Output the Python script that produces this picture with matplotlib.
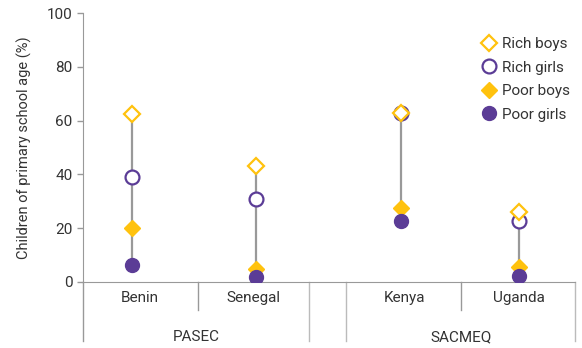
import matplotlib
matplotlib.use("Agg")
import matplotlib.pyplot as plt

# ---------------------------------------------------------------------------
# Data
# ---------------------------------------------------------------------------
countries = ["Benin", "Senegal", "Kenya", "Uganda"]
groups = ["PASEC", "SACMEQ"]
rich_boys = [62.3, 43.2, 63.0, 26.2]
rich_girls = [39.1, 31.0, 62.8, 22.8]
poor_boys = [19.9, 4.8, 27.5, 5.4]
poor_girls = [6.4, 1.7, 22.8, 2.3]
yticks = [0, 20, 40, 60, 80, 100]

# layout: cell edges along x (data units), one blank cell between the two groups
x_pos = [0.43, 1.52, 2.80, 3.84]
label_pos = [0.5, 1.5, 2.83, 3.84]
cell_edges_short = [1.01, 3.33]
cell_edges_long = [0.0, 1.99, 2.32, 4.335]
group_pos = [1.0, 3.33]

YELLOW = "#FFC20E"
PURPLE = "#5B3C96"
GREY = "#999999"
TEXT = "#333333"

plt.rcParams["font.family"] = ["Roboto", "DejaVu Sans"]

fig = plt.figure(figsize=(5.82, 3.48), dpi=100)
ax = fig.add_axes([0.1426, 0.1897, 0.988 - 0.1426, 0.9626 - 0.1897])

# range lines
for x, a, b, c, d in zip(x_pos, rich_boys, rich_girls, poor_boys, poor_girls):
    vals = [a, b, c, d]
    ax.plot([x, x], [min(vals), max(vals)], color=GREY, lw=1.6, zorder=1)

ms = 10
ax.plot(x_pos, rich_girls, "o", ls="none", ms=ms, mfc="white", mec=PURPLE,
        mew=1.6, zorder=3, label="Rich girls")
ax.plot(x_pos, rich_boys, "D", ls="none", ms=ms * 0.8, mfc="white", mec=YELLOW,
        mew=1.6, zorder=4, label="Rich boys")
ax.plot(x_pos, poor_boys, "D", ls="none", ms=ms * 0.8, color=YELLOW,
        zorder=5, label="Poor boys")
ax.plot(x_pos, poor_girls, "o", ls="none", ms=ms, color=PURPLE,
        zorder=6, label="Poor girls")

ax.set_xlim(0, 4.335)
ax.set_ylim(0, 100)
ax.set_yticks(yticks)
ax.tick_params(axis="y", colors=GREY, labelcolor=TEXT, labelsize=11,
               length=4, width=1)
ax.set_xticks([])
ax.set_ylabel("Children of primary school age (%)", color=TEXT, fontsize=10.5,
              labelpad=11)

for side in ["top", "right"]:
    ax.spines[side].set_visible(False)
ax.spines["left"].set_color(GREY)
ax.spines["bottom"].set_color(GREY)
ax.spines["left"].set_bounds(0, 100)

# multi-level category axis below the plot
tr = ax.get_xaxis_transform()
for x in cell_edges_short:
    ax.plot([x, x], [0, -0.104], color=GREY, lw=1, transform=tr, clip_on=False)
for x in cell_edges_long:
    ax.plot([x, x], [0, -0.218], color="#BBBBBB" if x else GREY, lw=1,
            transform=tr, clip_on=False)
for x, name in zip(label_pos, countries):
    ax.text(x, -0.06, name, transform=tr, ha="center", va="center",
            fontsize=11, color=TEXT)
for x, name in zip(group_pos, groups):
    ax.text(x, -0.205, name, transform=tr, ha="center", va="center",
            fontsize=11, color=TEXT)

handles, labels = ax.get_legend_handles_labels()
order = [1, 0, 2, 3]
ax.legend([handles[i] for i in order], [labels[i] for i in order],
          loc="upper right", bbox_to_anchor=(1.012, 0.95), frameon=False,
          fontsize=11, handletextpad=0.25, labelspacing=0.62,
          handlelength=1.2, borderpad=0.2, labelcolor=TEXT)

fig.savefig("out.png", dpi=100)
